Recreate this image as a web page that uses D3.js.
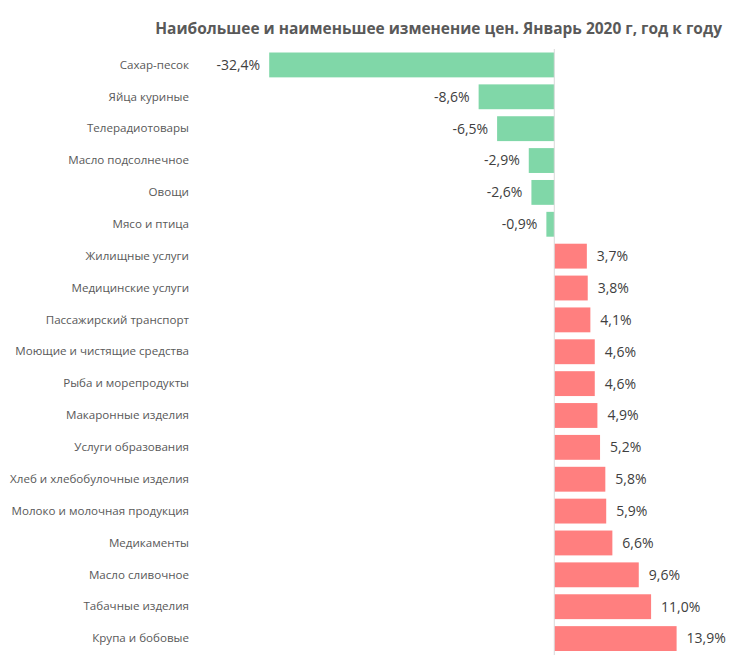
<!DOCTYPE html>
<html>
<head>
<meta charset="utf-8">
<script src="https://cdn.jsdelivr.net/npm/d3@7"></script>
<style>
html,body{margin:0;padding:0;background:#fff;}
svg{display:block;}
</style>
</head>
<body>
<svg id="chart" width="746" height="669"></svg>
<script>
const categories = [
  "Сахар-песок","Яйца куриные","Телерадиотовары","Масло подсолнечное","Овощи","Мясо и птица",
  "Жилищные услуги","Медицинские услуги","Пассажирский транспорт","Моющие и чистящие средства",
  "Рыба и морепродукты","Макаронные изделия","Услуги образования","Хлеб и хлебобулочные изделия",
  "Молоко и молочная продукция","Медикаменты","Масло сливочное","Табачные изделия","Крупа и бобовые"
];
const values = [-32.4,-8.6,-6.5,-2.9,-2.6,-0.9,3.7,3.8,4.1,4.6,4.6,4.9,5.2,5.8,5.9,6.6,9.6,11.0,13.9];
const title = "Наибольшее и наименьшее изменение цен. Январь 2020 г, год к году";

const svg = d3.select("#chart");
const font = "'Open Sans', 'Noto Sans', sans-serif";

const x = d3.scaleLinear().domain([-32.4, 13.9]).range([269.2, 676.6]);
const y = d3.scaleBand().domain(categories).range([49, 654.5]).paddingInner(0.22).paddingOuter(0.11);

// title
const t = svg.append("text")
  .attr("x", 722).attr("y", 34)
  .attr("text-anchor", "end")
  .style("font-family", font)
  .style("font-weight", "bold")
  .style("font-size", "15px")
  .attr("fill", "#595959")
  .text(title);
const tw = t.node().getComputedTextLength();
t.style("font-size", (15 * 567 / tw) + "px");

// bars
svg.append("g").selectAll("rect").data(values).join("rect")
  .attr("x", d => x(Math.min(0, d)))
  .attr("width", d => Math.abs(x(d) - x(0)))
  .attr("y", (d, i) => y(categories[i]))
  .attr("height", y.bandwidth())
  .attr("fill", d => d < 0 ? "#80d7a8" : "#ff7f7f");

// zero axis line
svg.append("line")
  .attr("x1", x(0)).attr("x2", x(0))
  .attr("y1", 49).attr("y2", 655)
  .attr("stroke", "#d9d9d9").attr("stroke-width", 1);

// category labels (axis)
const yAxis = d3.axisLeft(y).tickSize(0).tickPadding(0);
const ag = svg.append("g").attr("transform", "translate(189,0)").call(yAxis);
ag.select(".domain").remove();
ag.selectAll("text")
  .style("font-family", font)
  .style("font-size", "11.6px")
  .attr("fill", "#595959");

// value labels
svg.append("g").selectAll("text").data(values).join("text")
  .attr("x", d => d < 0 ? x(d) - 9 : x(d) + 10)
  .attr("y", (d, i) => y(categories[i]) + y.bandwidth() / 2)
  .attr("dy", "0.35em")
  .attr("text-anchor", d => d < 0 ? "end" : "start")
  .style("font-family", font)
  .style("font-size", "14px")
  .attr("fill", "#404040")
  .text(d => d3.format(".1f")(d).replace(".", ",").replace("−", "-") + "%");
</script>
</body>
</html>
